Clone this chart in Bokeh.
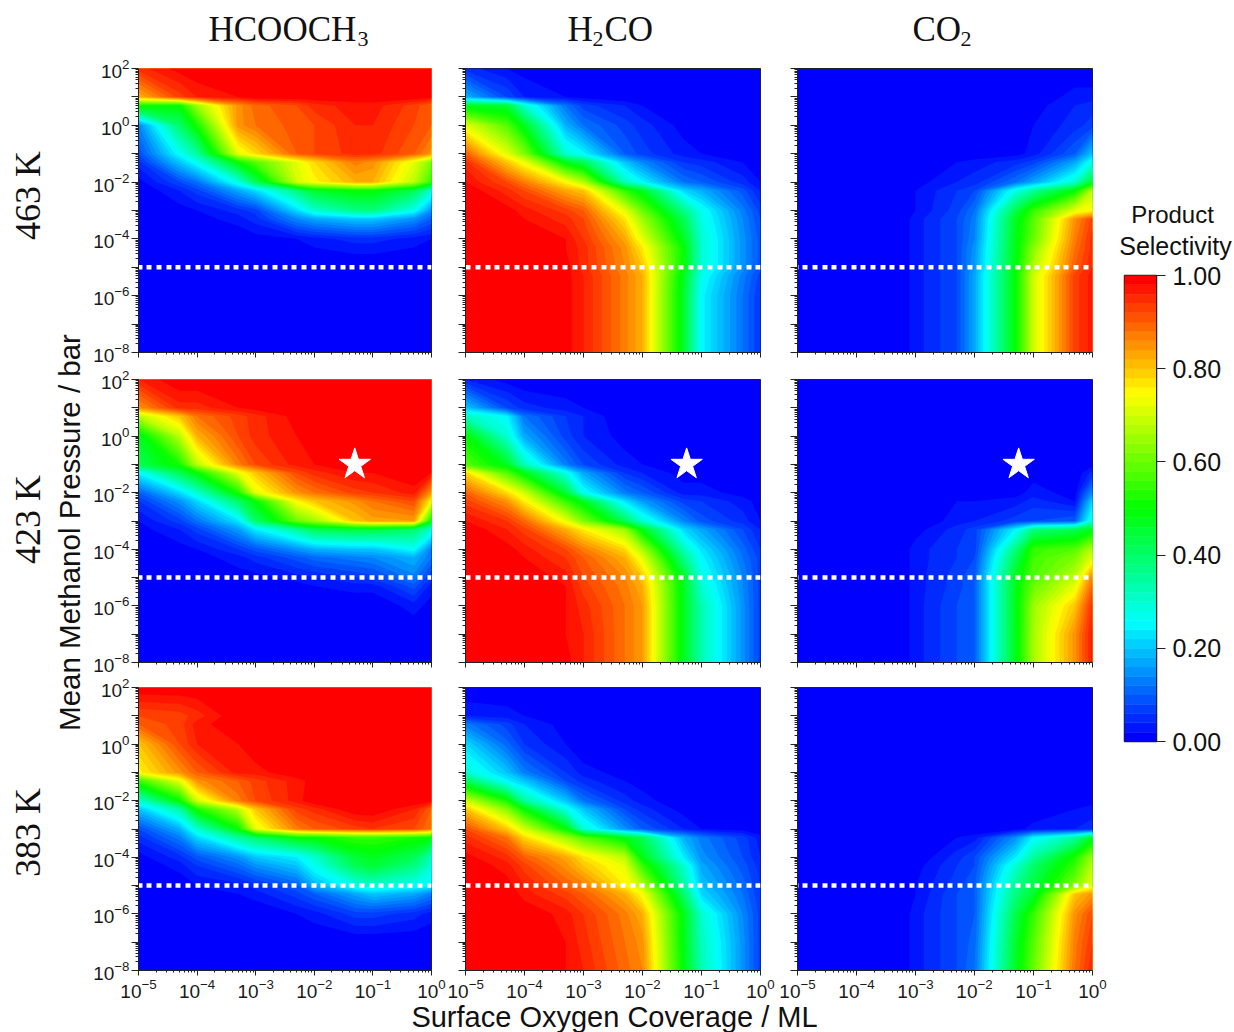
import numpy as np
from bokeh.embed import file_html
from bokeh.resources import INLINE
from bokeh.plotting import figure
from bokeh.plotting.contour import contour_data
from bokeh.layouts import row, column
from bokeh.models import Range1d, FixedTicker, LogTickFormatter, Label, LinearAxis, NumeralTickFormatter

coverage = [1e-5, 5e-5, 1e-4, 5e-4, 1e-3, 5e-3, 1e-2, 5e-2, 1e-1, 5e-1, 1.0]
pressure = [1e2, 1e1, 5, 1, 1e-1, 5e-2, 1e-2, 5e-3, 1e-3, 5e-4, 1e-4, 5e-5, 1e-5, 5e-6, 1e-6, 1e-7, 1e-8]
temps = ["463 K", "423 K", "383 K"]
star_coverage = [0.049, 0.056, 0.056]
star_pressure = 0.1
line_pressure = 1e-5
cbar_ticks = [0.0, 0.2, 0.4, 0.6, 0.8, 1.0]

# selectivity in percent, rows follow pressure, columns follow coverage
hcooch3_463 = [
 [95,99,100,100,100,100,100,100,100,100,100],
 [82,93,96,98,100,100,100,100,100,100,99],
 [52,50,65,85,89,92,95,97,97,93,90],
 [14,40,52,85,88,91,92,96,96,92,90],
 [8,26,35,72,78,90,92,95,95,90,85],
 [5,20,27,50,58,72,78,87,85,72,62],
 [1,8,12,28,42,70,75,82,82,68,55],
 [0,4,7,17,22,38,46,50,50,42,30],
 [0,1,2,5,7,22,30,37,38,27,15],
 [0,0,1,3,5,14,17,20,20,15,10],
 [0,0,0,0,1,2,3,5,5,3,2],
 [0,0,0,0,0,1,2,3,3,2,1],
 [0,0,0,0,0,0,0,0,0,0,0],
 [0,0,0,0,0,0,0,0,0,0,0],
 [0,0,0,0,0,0,0,0,0,0,0],
 [0,0,0,0,0,0,0,0,0,0,0],
 [0,0,0,0,0,0,0,0,0,0,0],
]
h2co_463 = [
 [5,2,1,0,0,0,0,0,0,0,0],
 [18,8,4,2,1,0,0,0,0,0,0],
 [47,45,30,12,7,4,2,0,0,0,0],
 [72,58,47,18,12,7,5,1,0,0,0],
 [90,72,62,30,25,10,7,3,2,1,0],
 [95,80,73,48,42,20,14,6,5,2,1],
 [98,92,87,75,67,32,25,12,10,5,2],
 [100,95,92,83,80,55,47,22,18,9,4],
 [100,99,97,93,90,72,60,37,27,13,7],
 [100,100,98,95,92,77,65,42,28,14,8],
 [100,100,100,98,94,83,72,47,30,15,9],
 [100,100,100,98,95,85,76,50,30,15,9],
 [100,100,100,99,95,86,80,50,30,15,9],
 [100,100,100,99,96,87,82,47,27,13,7],
 [100,100,100,99,96,87,82,46,25,12,6],
 [100,100,100,99,96,87,82,46,25,12,6],
 [100,100,100,99,96,87,82,46,25,12,6],
]
co2_463 = [
 [0,0,0,0,0,0,0,0,0,0,0],
 [0,0,0,0,0,0,0,0,0,3,3],
 [0,0,0,0,0,0,0,0,1,4,5],
 [0,0,0,0,0,0,0,0,2,5,7],
 [0,0,0,0,0,0,0,1,3,10,20],
 [0,0,0,0,0,2,3,5,7,17,28],
 [0,0,0,0,1,4,5,12,17,30,47],
 [0,0,0,0,2,6,8,28,36,50,68],
 [0,0,0,0,2,7,12,43,55,72,75],
 [0,0,0,0,3,8,13,47,58,85,93],
 [0,0,0,0,3,8,14,48,60,87,95],
 [0,0,0,0,3,8,15,48,63,88,95],
 [0,0,0,0,3,8,16,49,67,90,96],
 [0,0,0,0,3,8,17,50,70,93,97],
 [0,0,0,0,3,8,17,50,70,93,97],
 [0,0,0,0,3,8,17,50,70,93,97],
 [0,0,0,0,3,8,17,50,70,93,97],
]
hcooch3_423 = [
 [96,100,100,100,100,100,100,100,100,100,100],
 [85,95,95,98,99,100,100,100,100,100,100],
 [68,80,88,93,95,99,100,100,100,100,100],
 [47,68,82,92,95,98,100,100,100,100,100],
 [42,52,68,87,92,97,98,100,100,100,100],
 [25,42,50,72,80,92,95,98,98,100,98],
 [10,22,30,52,72,85,88,93,94,97,85],
 [6,15,22,40,50,75,80,85,88,92,75],
 [2,7,12,23,40,60,65,80,83,84,50],
 [1,4,7,16,24,35,42,44,44,40,30],
 [0,1,2,6,9,15,18,20,20,26,13],
 [0,0,1,3,5,9,11,13,14,18,12],
 [0,0,0,1,1,3,4,6,7,13,6],
 [0,0,0,0,0,1,2,3,3,9,3],
 [0,0,0,0,0,0,0,0,0,3,1],
 [0,0,0,0,0,0,0,0,0,0,0],
 [0,0,0,0,0,0,0,0,0,0,0],
]
h2co_423 = [
 [4,1,0,0,0,0,0,0,0,0,0],
 [20,8,5,3,2,1,0,0,0,0,0],
 [32,25,12,6,4,0,0,0,0,0,0],
 [50,30,17,7,4,1,0,0,0,0,0],
 [58,47,32,13,8,3,2,0,0,0,0],
 [78,58,48,28,17,6,4,1,1,0,0],
 [90,78,70,45,27,13,10,3,3,1,0],
 [93,85,76,55,47,23,16,7,6,3,1],
 [98,94,89,73,62,42,30,14,9,5,2],
 [100,96,93,82,76,65,48,22,17,8,4],
 [100,99,97,92,87,78,66,32,23,11,6],
 [100,100,98,94,90,82,72,37,25,12,7],
 [100,100,100,97,92,86,80,47,28,14,7],
 [100,100,100,98,93,87,82,47,30,14,7],
 [100,100,100,98,95,88,84,47,33,15,7],
 [100,100,100,98,96,88,84,47,33,15,7],
 [100,100,100,99,96,88,84,47,33,15,7],
]
co2_423 = [
 [0,0,0,0,0,0,0,0,0,0,0],
 [0,0,0,0,0,0,0,0,0,0,0],
 [0,0,0,0,0,0,0,0,0,0,0],
 [0,0,0,0,0,0,0,0,0,0,0],
 [0,0,0,0,0,0,0,0,0,0,1],
 [0,0,0,0,0,0,0,0,1,0,5],
 [0,0,0,0,0,0,0,1,3,1,15],
 [0,0,0,0,0,2,2,3,5,2,22],
 [0,0,0,0,0,3,4,7,8,10,30],
 [0,0,0,0,1,5,7,25,38,42,48],
 [0,0,0,0,3,6,7,38,55,58,68],
 [0,0,0,0,3,6,8,42,56,62,72],
 [0,0,0,0,3,7,10,48,58,68,87],
 [0,0,0,0,3,7,10,48,60,72,90],
 [0,0,0,0,3,8,10,48,65,80,95],
 [0,0,0,0,3,8,10,48,66,85,97],
 [0,0,0,0,3,8,10,48,66,85,97],
]
hcooch3_383 = [
 [100,100,100,100,100,100,100,100,100,100,100],
 [92,93,95,100,100,100,100,100,100,100,100],
 [90,93,97,100,100,100,100,100,100,100,100],
 [80,92,96,98,100,100,100,100,100,100,100],
 [75,85,90,97,97,100,100,100,100,100,100],
 [55,72,85,90,93,97,99,100,100,100,100],
 [30,50,70,87,92,97,100,100,100,100,99],
 [20,34,52,68,80,93,95,100,100,96,90],
 [8,18,30,50,72,87,90,93,94,92,88],
 [5,13,22,35,40,50,50,55,55,52,50],
 [1,5,9,15,20,24,30,45,47,42,33],
 [0,3,6,11,15,20,27,42,45,38,30],
 [0,0,2,3,5,10,18,28,30,27,25],
 [0,0,0,2,3,7,10,17,20,17,13],
 [0,0,0,0,0,2,3,7,7,5,3],
 [0,0,0,0,0,0,0,0,0,0,0],
 [0,0,0,0,0,0,0,0,0,0,0],
]
h2co_383 = [
 [0,0,0,0,0,0,0,0,0,0,0],
 [4,3,2,0,0,0,0,0,0,0,0],
 [13,7,4,1,0,0,0,0,0,0,0],
 [22,11,6,2,0,0,0,0,0,0,0],
 [30,20,13,6,3,1,0,0,0,0,0],
 [42,25,20,8,5,2,1,0,0,0,0],
 [70,52,35,20,12,5,3,0,0,0,0],
 [80,63,50,28,20,8,5,1,0,0,0],
 [92,80,70,50,30,15,10,4,2,1,0],
 [95,88,78,65,58,48,42,18,13,7,3],
 [99,95,90,83,77,68,48,24,15,8,4],
 [100,97,93,85,80,72,55,30,17,9,5],
 [100,99,96,90,87,76,67,35,20,11,6],
 [100,100,97,93,90,82,74,40,22,12,6],
 [100,100,100,97,94,87,82,48,30,14,7],
 [100,100,100,98,95,88,85,48,32,15,7],
 [100,100,100,98,96,89,86,49,33,15,7],
]
co2_383 = [
 [0,0,0,0,0,0,0,0,0,0,0],
 [0,0,0,0,0,0,0,0,0,0,0],
 [0,0,0,0,0,0,0,0,0,0,0],
 [0,0,0,0,0,0,0,0,0,0,0],
 [0,0,0,0,0,0,0,0,0,0,0],
 [0,0,0,0,0,0,0,0,0,0,0],
 [0,0,0,0,0,0,0,0,0,0,1],
 [0,0,0,0,0,0,0,0,0,2,3],
 [0,0,0,0,0,0,0,1,3,4,5],
 [0,0,0,0,0,2,3,15,25,35,47],
 [0,0,0,0,0,5,8,24,35,52,65],
 [0,0,0,0,1,6,8,30,40,55,68],
 [0,0,0,0,2,7,10,36,44,62,72],
 [0,0,0,0,2,8,10,38,46,80,85],
 [0,0,0,0,3,8,10,43,55,85,92],
 [0,0,0,0,3,8,11,46,58,87,94],
 [0,0,0,0,3,8,12,47,60,88,96],
]
panels = [[hcooch3_463, h2co_463, co2_463],
          [hcooch3_423, h2co_423, co2_423],
          [hcooch3_383, h2co_383, co2_383]]

# palette and levels
STOPS = [(0, (0, 0, 255)), (.25, (0, 255, 255)), (.5, (0, 255, 0)), (.75, (255, 255, 0)), (1, (255, 0, 0))]
N = 50
def band_color(v):
    for (a, ca), (b, cb) in zip(STOPS, STOPS[1:]):
        if v <= b:
            t = (v - a) / (b - a)
            return "#%02x%02x%02x" % tuple(int(round(p + t * (q - p))) for p, q in zip(ca, cb))
    return "#ff0000"
palette = [band_color(i / (N - 1)) for i in range(N)]
levels = [i / N for i in range(N + 1)]

def unlog(a):
    if isinstance(a, np.ndarray):
        return 10.0 ** a
    return [unlog(v) for v in a]

AX = "#222222"
SANS = "Liberation Sans"
SERIF = "Liberation Serif"
x_major = [1e-5, 1e-4, 1e-3, 1e-2, 1e-1, 1.0]
y_major = [1e2, 1e1, 1.0, 1e-1, 1e-2, 1e-3, 1e-4, 1e-5, 1e-6, 1e-7, 1e-8]
y_blank = [1e1, 1e-1, 1e-3, 1e-5, 1e-7]
def minors(lo, hi):
    return [float(f"{m}e{e}") for e in range(lo, hi) for m in range(2, 10)]

col_b = [(47, 294, 16), (18, 295, 18), (19, 295, 16)]
row_b = [(18, 284, 14), (13, 283, 14), (11, 283, 30)]

def panel(r, c):
    l, fw, rt = col_b[c]
    t, fh, b = row_b[r]
    p = figure(width=l + fw + rt, height=t + fh + b, x_axis_type="log", y_axis_type="log",
               x_range=Range1d(1e-5, 1), y_range=Range1d(1e-8, 1e2),
               output_backend="svg", toolbar_location=None,
               min_border_left=l, min_border_right=rt, min_border_top=t, min_border_bottom=b)
    p.grid.visible = False
    p.outline_line_color = AX
    p.background_fill_color = "#0000ff"
    z = np.array(panels[r][c], float) / 100
    lx, ly = np.log10(coverage), np.log10(pressure)
    xs, ys, cols = [], [], []
    # each band is painted over the one below it, so no seams show between bands
    for k in range(1, N):
        fd = contour_data(lx, ly, z, [levels[k], 1.01], want_line=False).fill_data
        px, py = fd.xs[0], fd.ys[0]
        if len(px):
            xs.append(unlog(px))
            ys.append(unlog(py))
            cols.append(palette[k])
    if xs:
        p.multi_polygons(xs, ys, fill_color=cols, line_color=None)
    off = {0: 8, 1: 0, 2: 5}[c]
    p.line([coverage[0], coverage[-1]], [line_pressure, line_pressure], line_color="white",
           line_width=4.5, line_dash="5 5 5 5 5 4", line_dash_offset=-off)
    if r == 1:
        p.scatter([star_coverage[c]], [star_pressure], marker="star", size=33, fill_color="white", line_color="white")
    xa, ya = p.xaxis[0], p.yaxis[0]
    xa.ticker = FixedTicker(ticks=x_major, minor_ticks=minors(-5, 0))
    ya.ticker = FixedTicker(ticks=y_major, minor_ticks=minors(-8, 2))
    for a in (xa, ya):
        a.formatter = LogTickFormatter()
        a.axis_line_color = AX
        a.major_tick_line_color = AX
        a.minor_tick_line_color = AX
        a.major_tick_in = 0
        a.minor_tick_in = 0
        a.major_label_text_font = SANS
        a.major_label_text_font_size = "19px"
        a.major_label_text_color = "#1a1a1a"
    xa.major_tick_out = 5
    xa.minor_tick_out = 2
    ya.major_tick_out = 7
    ya.minor_tick_out = 3
    ya.major_label_standoff = 2
    xa.major_label_standoff = 3
    ya.major_label_overrides = {v: "" for v in y_blank}
    if c > 0:
        ya.major_label_text_color = None
        ya.major_label_text_font_size = "1px"
    if r < 2:
        xa.major_label_text_color = None
        xa.major_label_text_font_size = "1px"
    return p

def strip(x0, x1, y0, y1):
    s = figure(width=x1 - x0, height=y1 - y0, x_range=Range1d(x0, x1), y_range=Range1d(y1, y0),
               output_backend="svg", toolbar_location=None, x_axis_type=None, y_axis_type=None,
               min_border=0, outline_line_color=None)
    s.grid.visible = False
    return s

def lab(fig, x, y, text, font, size, angle=0, align="center", baseline="middle", color="#111111"):
    fig.add_layout(Label(x=x, y=y, text=text, text_font=font, text_font_size=f"{size}px", angle=angle,
                         text_align=align, text_baseline=baseline, text_color=color))

# top strip: titles
top = strip(90, 1108, 0, 50)
lab(top, 208, 29, "HCOOCH", SERIF, 35, align="left")
lab(top, 357, 38, "3", SERIF, 22, align="left")
lab(top, 567, 29, "H", SERIF, 35, align="left")
lab(top, 592, 38, "2", SERIF, 22, align="left")
lab(top, 604, 29, "CO", SERIF, 35, align="left")
lab(top, 912, 29, "CO", SERIF, 35, align="left")
lab(top, 960, 38, "2", SERIF, 22, align="left")

# left strip: row and axis titles
left = strip(0, 90, 0, 1032)
for t, y in zip(temps, (195, 519, 832)):
    lab(left, 27, y, t, SERIF, 36, angle=np.pi / 2)
lab(left, 69, 532, "Mean Methanol Pressure / bar", SANS, 29.5, angle=np.pi / 2)

# bottom strip
bot = strip(90, 1108, 1000, 1032)
lab(bot, 614, 1016, "Surface Oxygen Coverage / ML", SANS, 29)

# colour bar title
cbt = strip(1108, 1234, 0, 262)
lab(cbt, 1172, 214, "Product", SANS, 24)
lab(cbt, 1175, 245, "Selectivity", SANS, 25)

# colour bar
cb = figure(width=126, height=770, x_range=Range1d(0, 1), y_range=Range1d(0, 1),
            output_backend="svg", toolbar_location=None, x_axis_type=None, y_axis_type=None,
            min_border_left=16, min_border_right=78, min_border_top=13, min_border_bottom=291,
            outline_line_color=AX, outline_line_width=1.5)
cb.grid.visible = False
cb.quad(left=0, right=1, bottom=levels[:-1], top=levels[1:], fill_color=palette, line_color=palette, line_width=0.5)
ax = LinearAxis(ticker=FixedTicker(ticks=cbar_ticks), formatter=NumeralTickFormatter(format="0.00"))
ax.major_label_text_font = SANS
ax.major_label_text_font_size = "25px"
ax.major_label_text_color = "#111111"
ax.major_tick_in = 0
ax.major_tick_out = 9
ax.major_tick_line_color = AX
ax.axis_line_color = AX
ax.major_label_standoff = 7
cb.add_layout(ax, "right")

rows = [row(*[panel(r, c) for c in range(3)], spacing=0) for r in range(3)]
center = column(top, *rows, bot, spacing=0)
right = column(column(cbt), column(cb), spacing=0)
page = row(column(left), center, right, spacing=0)
open("out.html", "w").write(file_html(page, INLINE))
